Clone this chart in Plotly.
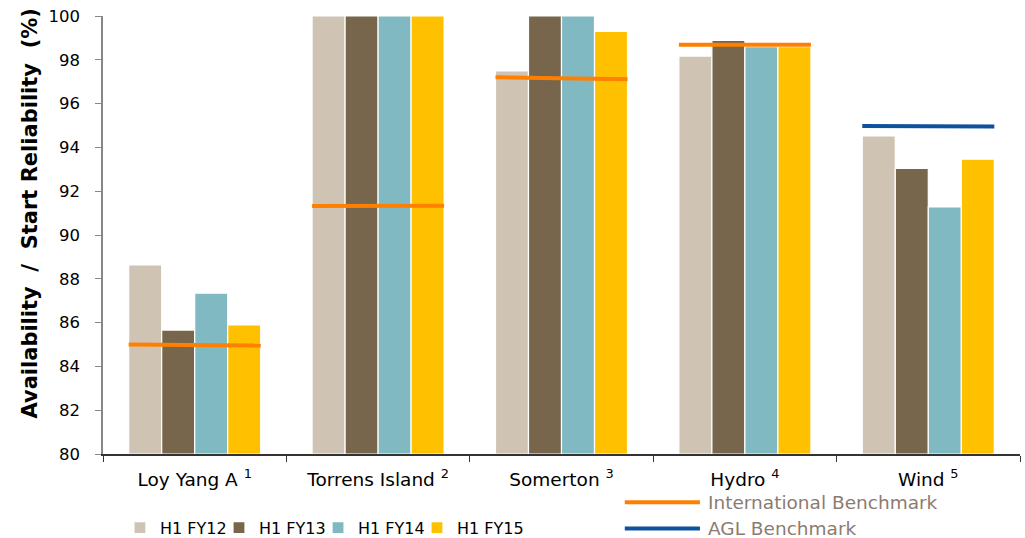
import plotly.graph_objects as go

# Plant categories and superscript note numbers
categories = ["Loy Yang A", "Torrens Island", "Somerton", "Hydro", "Wind"]
notes = ["1", "2", "3", "4", "5"]

# Half-year availability / start reliability (%)
series_names = ["H1 FY12", "H1 FY13", "H1 FY14", "H1 FY15"]
fy12 = [88.63, 100.0, 97.49, 98.17, 94.52]
fy13 = [85.66, 100.0, 100.0, 98.89, 93.04]
fy14 = [87.35, 100.0, 100.0, 98.60, 91.28]
fy15 = [85.89, 100.0, 99.30, 98.60, 93.46]

# Benchmarks (start, end of each segment across the bar group)
intl_bench_cats = [0, 1, 2, 3]
intl_bench_start = [85.00, 91.32, 97.20, 98.69]
intl_bench_end = [84.95, 91.33, 97.11, 98.69]
agl_bench_cats = [4]
agl_bench_start = [94.98]
agl_bench_end = [94.95]

Y_MIN, Y_MAX = 80, 100

colors = ["#cfc4b3", "#77664b", "#80b9c2", "#ffc000"]
orange = "#ff8000"
blue = "#0e529e"
font_main = "DejaVu Sans, Verdana, sans-serif"

tick_labels = [f"{c} <sup>{n}</sup>" for c, n in zip(categories, notes)]

# one legend box per bar series, laid out in a row along the bottom
legend_ids = ["legend", "legend2", "legend3", "legend4"]
legend_x = [0.0185, 0.1265, 0.2345, 0.3424]

fig = go.Figure()
for name, vals, col, lid in zip(series_names, [fy12, fy13, fy14, fy15], colors, legend_ids):
    fig.add_trace(go.Bar(
        x=tick_labels, y=[v - Y_MIN for v in vals], base=Y_MIN, name=name,
        marker=dict(color=col, line=dict(color="white", width=1.2)),
        legend=lid, hovertext=[f"{v:.2f}" for v in vals],
    ))

half = 0.36
for cat, y0, y1 in zip(intl_bench_cats, intl_bench_start, intl_bench_end):
    fig.add_trace(go.Scatter(
        x=[cat - half, cat + half], y=[y0, y1], mode="lines",
        line=dict(color=orange, width=4), xaxis="x2",
        name="International Benchmark", showlegend=False, hoverinfo="skip",
    ))
for cat, y0, y1 in zip(agl_bench_cats, agl_bench_start, agl_bench_end):
    fig.add_trace(go.Scatter(
        x=[cat - half, cat + half], y=[y0, y1], mode="lines",
        line=dict(color=blue, width=4), xaxis="x2",
        name="AGL Benchmark", showlegend=False, hoverinfo="skip",
    ))

# Line legend drawn at the lower right (paper coords, plot spans 438 px tall)
legend_lines = [("International Benchmark", orange, -0.110), ("AGL Benchmark", blue, -0.170)]
shapes = []
annotations = []
for label, col, yp in legend_lines:
    shapes.append(dict(type="line", xref="paper", yref="paper",
                       x0=0.569, x1=0.651, y0=yp, y1=yp,
                       line=dict(color=col, width=4)))
    annotations.append(dict(xref="paper", yref="paper", x=0.658, y=yp,
                            text=label, showarrow=False, xanchor="left", yanchor="middle",
                            font=dict(family=font_main, size=18.5, color="#8c7b70")))

# Y-axis title
annotations.append(dict(
    xref="paper", yref="paper", x=-0.0796, y=0.549, textangle=-90,
    text="<b>Availability  /  Start Reliability  (%)</b>", showarrow=False,
    xanchor="center", yanchor="middle",
    font=dict(family=font_main, size=21, color="black"),
))

legend_common = dict(orientation="h", xref="paper", y=0.019, yref="container",
                     xanchor="left", yanchor="middle", font=dict(size=16),
                     itemwidth=30, bgcolor="rgba(0,0,0,0)")
legend_layout = {lid: dict(legend_common, x=lx) for lid, lx in zip(legend_ids, legend_x)}

fig.update_layout(
    width=1025, height=538,
    margin=dict(l=103, r=5, t=16, b=84, autoexpand=False),
    paper_bgcolor="white", plot_bgcolor="white",
    barmode="group", bargap=0.28, bargroupgap=0,
    font=dict(family=font_main, size=16, color="black"),
    xaxis=dict(
        type="category", tickson="boundaries", ticks="outside", ticklen=6,
        tickcolor="#333", showline=True, linecolor="#333", linewidth=1.5,
        tickfont=dict(size=18.5), ticklabelstandoff=8,
        showgrid=False, range=[-0.5, 4.5],
    ),
    xaxis2=dict(overlaying="x", range=[-0.5, 4.5], visible=False),
    yaxis=dict(
        range=[Y_MIN, Y_MAX], dtick=2, ticks="outside", ticklen=6, tickcolor="#888",
        showline=True, linecolor="#888", linewidth=1.5, showgrid=False,
        zeroline=False, tickfont=dict(size=16.5), ticklabelstandoff=12,
    ),
    shapes=shapes,
    annotations=annotations,
    **legend_layout,
)

fig.write_html("out.html")
